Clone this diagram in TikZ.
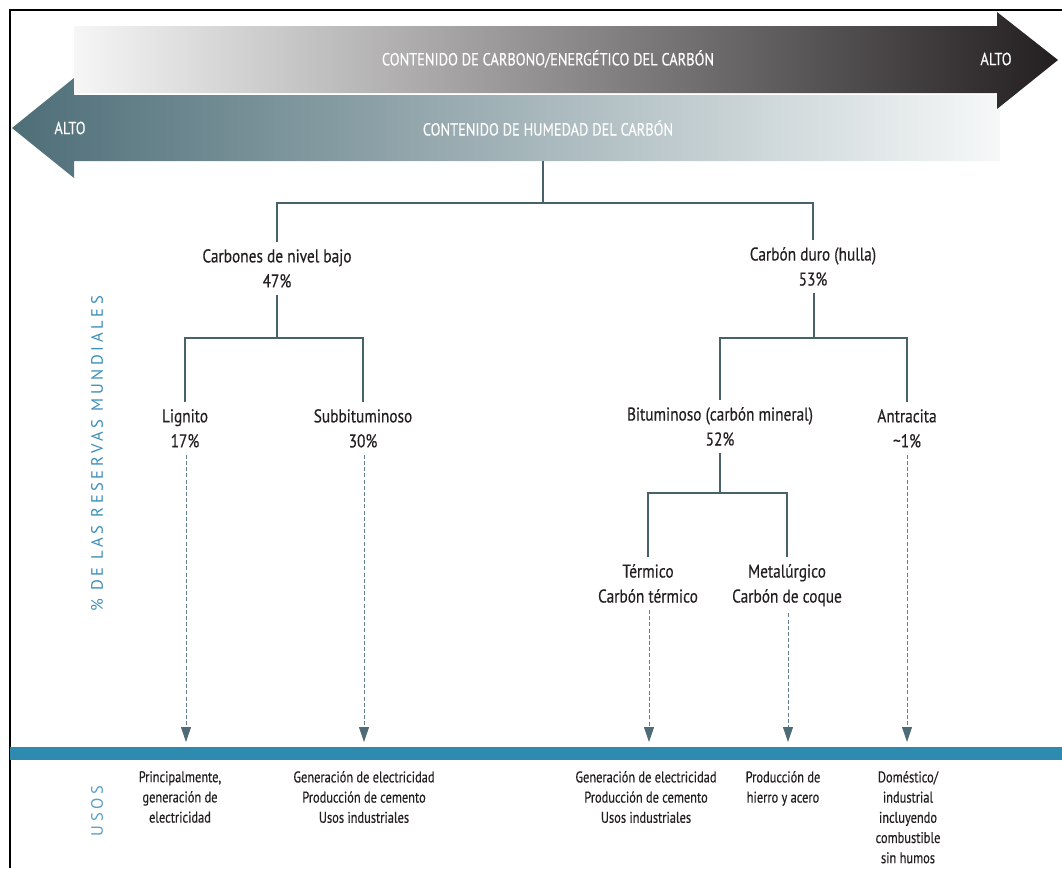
\documentclass[tikz,border=0pt]{standalone}
\usepackage{fontspec}
\setmainfont{PT Sans}[FakeStretch=0.85]
\newfontfamily\treefont{PT Sans}[FakeStretch=0.83, FakeBold=0.35]
\newfontfamily\bannerfont{PT Sans}[FakeStretch=0.82, FakeBold=0.3]
\newfontfamily\useblockfont{PT Sans}[FakeStretch=0.8, FakeBold=0.35]
\newfontfamily\spacedfont{PT Sans}[LetterSpace=22]
\usetikzlibrary{arrows.meta}

\definecolor{treeline}{RGB}{72,98,108}
\definecolor{dashline}{RGB}{96,128,140}
\definecolor{tipfill}{RGB}{78,108,120}
\definecolor{band}{RGB}{46,138,174}
\definecolor{axislabel}{RGB}{58,143,186}
\definecolor{useslabel}{RGB}{88,160,200}
\definecolor{txt}{RGB}{35,31,32}
\definecolor{energydark}{RGB}{35,31,32}
\definecolor{energylight}{RGB}{246,246,246}
\definecolor{moistdark}{RGB}{78,110,120}
\definecolor{moistlight}{RGB}{246,248,248}

\tikzset{
  tree/.style={draw=treeline, line width=1.1pt},
  usearrow/.style={draw=dashline, line width=0.9pt, dash pattern=on 4pt off 2.2pt,
    -{Triangle[length=15pt,width=10pt,color=tipfill]}},
  kind/.style={align=center, anchor=north, inner xsep=2pt, inner ysep=7pt,
    text=txt, font=\treefont\fontsize{18.5}{25}\selectfont},
  useblock/.style={align=center, anchor=north, inner sep=0pt,
    text=txt, font=\useblockfont\fontsize{15.5}{20.2}\selectfont},
  banner/.style={text=white, inner sep=0pt, font=\bannerfont\fontsize{17.5}{19}\selectfont},
  sidelabel/.style={rotate=90, inner sep=0pt, font=\spacedfont\fontsize{16.5}{18}\selectfont}
}

\begin{document}
\begin{tikzpicture}[x=1pt, y=-1pt]
\useasboundingbox (0,0) rectangle (1062,868);
\fill[white] (0,0) rectangle (1062,868);

% frame
\draw[black, line width=1.8pt] (10,868) -- (10,10) -- (1062,10);

% moisture scale (points left)
\shade[left color=moistdark, right color=moistlight]
  (12,128) -- (74,78) -- (74,95) -- (1000,95) -- (1000,161) -- (74,161) -- (74,178) -- cycle;
% carbon / energy scale (points right)
\shade[left color=energylight, right color=energydark]
  (74,26) -- (997,26) -- (997,12) -- (1058,60) -- (997,109) -- (997,93) -- (74,93) -- cycle;

\node[banner] (energy) at (548,59) {CONTENIDO DE CARBONO/ENERGÉTICO DEL CARBÓN};
\node[banner] (energyhigh) at (996,59) {ALTO};
\node[banner] (moisture) at (548,128) {CONTENIDO DE HUMEDAD DEL CARBÓN};
\node[banner] (moisturehigh) at (70,128) {ALTO};
\coordinate (scalebase) at (543,161);

% side labels
\node[sidelabel, text=axislabel] (reserves) at (97,454) {\% DE LAS RESERVAS MUNDIALES};
\node[sidelabel, text=useslabel] (uses) at (97,811) {USOS};

% coal types
\node[kind] (low)  at (277,242) {Carbones de nivel bajo\\47\%};
\node[kind] (hard) at (813,240) {Carbón duro (hulla)\\53\%};
\node[kind] (lig)  at (185,402) {Lignito\\17\%};
\node[kind] (sub)  at (363,402) {Subbituminoso\\30\%};
\node[kind] (bit)  at (720,400) {Bituminoso (carbón mineral)\\52\%};
\node[kind] (ant)  at (907,402) {Antracita\\\textasciitilde1\%};
\node[kind] (term) at (648,557) {Térmico\\Carbón térmico};
\node[kind] (met)  at (787,557) {Metalúrgico\\Carbón de coque};

% branch points
\coordinate (jtop)  at (543,203);
\coordinate (jlow)  at (277,338);
\coordinate (jhard) at (814,338);
\coordinate (jbit)  at (720,493);

\draw[tree] (scalebase) -- (jtop);
\draw[tree] (low.north) |- (jtop) -| (hard.north);
\draw[tree] (low.south) -- (jlow);
\draw[tree] (lig.north) |- (jlow) -| (sub.north);
\draw[tree] (hard.south -| jhard) -- (jhard);
\draw[tree] (bit.north) |- (jhard) -| (ant.north);
\draw[tree] (bit.south) -- (jbit);
\draw[tree] (term.north) |- (jbit) -| (met.north);

% band of uses
\fill[band] (10,747) rectangle (1062,760);

\coordinate (t1) at (186,742);
\coordinate (t2) at (364,742);
\coordinate (t3) at (649,742);
\coordinate (t4) at (788,742);
\coordinate (t5) at (907,742);

\draw[usearrow] (lig.south -| t1) -- (t1);
\draw[usearrow] (sub.south -| t2) -- (t2);
\draw[usearrow] (term.south -| t3) -- (t3);
\draw[usearrow] (met.south -| t4) -- (t4);
\draw[usearrow] (ant.south -| t5) -- (t5);

\node[useblock] (u1) at (180,771) {Principalmente,\\generación de\\electricidad};
\node[useblock] (u2) at (364,771) {Generación de electricidad\\Producción de cemento\\Usos industriales};
\node[useblock] (u3) at (646,771) {Generación de electricidad\\Producción de cemento\\Usos industriales};
\node[useblock] (u4) at (783,771) {Producción de\\hierro y acero};
\node[useblock] (u5) at (908,771) {Doméstico/\\industrial\\incluyendo\\combustible\\sin humos};
\end{tikzpicture}
\end{document}
